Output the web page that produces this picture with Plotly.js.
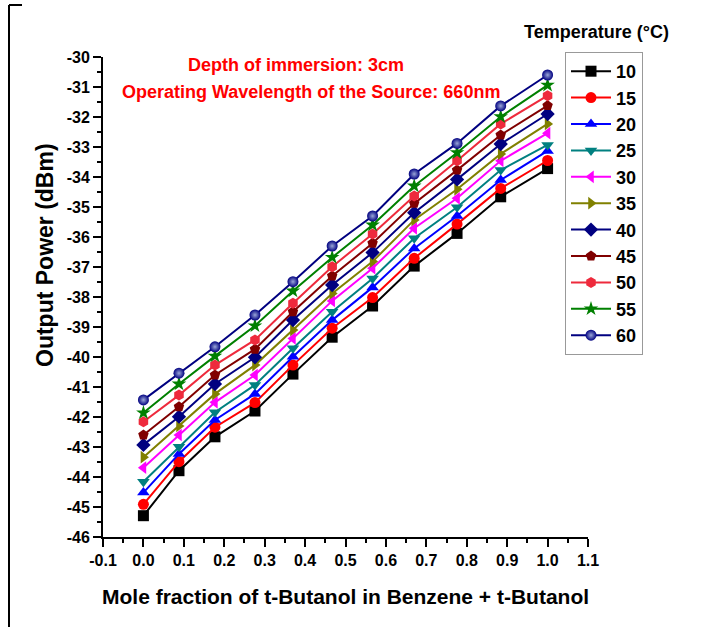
<!DOCTYPE html>
<html>
<head>
<meta charset="utf-8">
<script src="https://cdn.plot.ly/plotly-3.0.1.min.js"></script>
<style>html,body{margin:0;padding:0;background:#fff;}#chart{width:727px;height:627px;}</style>
</head>
<body>
<div id="chart"></div>
<script>
// Mole fraction of t-Butanol
const moleFraction = [0, 0.088, 0.177, 0.276, 0.37, 0.467, 0.567, 0.67, 0.776, 0.884, 1.0];

// Output power (dBm) per temperature (°C)
const temperatures = ['10', '15', '20', '25', '30', '35', '40', '45', '50', '55', '60'];
const t10 = [-45.29, -43.79, -42.66, -41.80, -40.57, -39.34, -38.30, -36.97, -35.88, -34.66, -33.72];
const t15 = [-44.91, -43.49, -42.34, -41.52, -40.27, -39.04, -38.02, -36.71, -35.57, -34.38, -33.45];
const t20 = [-44.52, -43.23, -42.10, -41.23, -39.99, -38.77, -37.68, -36.38, -35.30, -34.10, -33.13];
const t25 = [-44.16, -42.99, -41.84, -40.93, -39.71, -38.49, -37.38, -36.04, -35.01, -33.77, -32.93];
const t30 = [-43.69, -42.60, -41.51, -40.60, -39.38, -38.13, -37.04, -35.71, -34.71, -33.46, -32.54];
const t35 = [-43.34, -42.30, -41.23, -40.27, -39.10, -37.88, -36.82, -35.43, -34.41, -33.23, -32.23];
const t40 = [-42.93, -41.99, -40.90, -40.01, -38.77, -37.60, -36.52, -35.19, -34.08, -32.90, -31.90];
const t45 = [-42.60, -41.66, -40.60, -39.74, -38.49, -37.30, -36.21, -34.88, -33.77, -32.60, -31.62];
const t50 = [-42.16, -41.27, -40.27, -39.43, -38.21, -36.99, -35.90, -34.63, -33.46, -32.23, -31.29];
const t55 = [-41.86, -40.90, -39.97, -38.96, -37.80, -36.68, -35.60, -34.30, -33.19, -31.99, -30.94];
const t60 = [-41.43, -40.54, -39.66, -38.60, -37.49, -36.30, -35.30, -33.90, -32.88, -31.63, -30.60];

// Tick values and labels
const xTickVals = [-0.1, 0.0, 0.1, 0.2, 0.3, 0.4, 0.5, 0.6, 0.7, 0.8, 0.9, 1.0, 1.1];
const xTickText = ['-0.1', '0.0', '0.1', '0.2', '0.3', '0.4', '0.5', '0.6', '0.7', '0.8', '0.9', '1.0', '1.1'];
const yTickVals = [-46, -45, -44, -43, -42, -41, -40, -39, -38, -37, -36, -35, -34, -33, -32, -31, -30];
const yTickText = ['-46', '-45', '-44', '-43', '-42', '-41', '-40', '-39', '-38', '-37', '-36', '-35', '-34', '-33', '-32', '-31', '-30'];

const seriesValues = [t10, t15, t20, t25, t30, t35, t40, t45, t50, t55, t60];
const seriesColors = ['#000000', '#FF0000', '#0000FF', '#008080', '#FF00FF', '#808000', '#000080', '#800000', '#EE2A3C', '#008000', '#000080'];
const seriesSymbols = ['square', 'circle', 'triangle-up', 'triangle-down', 'triangle-left', 'triangle-right', 'diamond', 'pentagon', 'hexagon', 'star', 'circle'];

const annotationLines = ['Depth of immersion: 3cm', 'Operating Wavelength of the Source: 660nm'];
const legendTitle = 'Temperature (°C)';
const xTitle = 'Mole fraction of t-Butanol in Benzene + t-Butanol';
const yTitle = 'Output Power (dBm)';

const BOLD = 'Liberation Sans, Arial, sans-serif';

const traces = seriesValues.map((vals, i) => {
  const marker = {symbol: seriesSymbols[i], color: seriesColors[i], size: 11, line: {width: 0}};
  if (i === 10) marker.gradient = {type: 'radial', color: '#9aa6d8'};
  return {
    x: moleFraction, y: vals, name: temperatures[i], type: 'scatter', mode: 'lines+markers',
    line: {color: seriesColors[i], width: 2}, marker: marker
  };
});

const L = 103, R = 588, T = 57, B = 537;
const px = v => (v - L) / (R - L);
const py = v => (B - v) / (B - T);

const layout = {
  width: 727, height: 627,
  margin: {l: L, r: 727 - R, t: T, b: 627 - B},
  paper_bgcolor: '#ffffff', plot_bgcolor: '#ffffff',
  showlegend: true,
  xaxis: {
    range: [-0.1, 1.1], tickmode: 'array', tickvals: xTickVals, ticktext: xTickText,
    showgrid: false, zeroline: false, showline: true, linecolor: '#000', linewidth: 2,
    ticks: 'outside', ticklen: 8, tickwidth: 2, tickcolor: '#000',
    minor: {dtick: 0.05, tick0: -0.1, ticks: 'outside', ticklen: 4, tickwidth: 2, tickcolor: '#000'},
    tickfont: {family: BOLD, size: 16, color: '#000', weight: 'bold'}
  },
  yaxis: {
    range: [-46, -30], tickmode: 'array', tickvals: yTickVals, ticktext: yTickText,
    showgrid: false, zeroline: false, showline: true, linecolor: '#000', linewidth: 2,
    ticks: 'outside', ticklen: 8, tickwidth: 2, tickcolor: '#000',
    minor: {dtick: 0.5, tick0: -46, ticks: 'outside', ticklen: 4, tickwidth: 2, tickcolor: '#000'},
    tickfont: {family: BOLD, size: 16, color: '#000', weight: 'bold'}
  },
  legend: {
    x: px(565), y: py(52), xanchor: 'left', yanchor: 'top',
    bgcolor: '#ffffff', bordercolor: '#999999', borderwidth: 1,
    font: {family: BOLD, size: 18, color: '#000', weight: 'bold'},
    itemwidth: 40, tracegroupgap: 0
  },
  annotations: [
    {xref: 'paper', yref: 'paper', x: px(296), y: py(65), xanchor: 'center', yanchor: 'middle',
     text: annotationLines[0], showarrow: false,
     font: {family: BOLD, size: 18, color: '#FF0000', weight: 'bold'}},
    {xref: 'paper', yref: 'paper', x: px(311), y: py(92), xanchor: 'center', yanchor: 'middle',
     text: annotationLines[1], showarrow: false,
     font: {family: BOLD, size: 18, color: '#FF0000', weight: 'bold'}},
    {xref: 'paper', yref: 'paper', x: px(596), y: py(32), xanchor: 'center', yanchor: 'middle',
     text: legendTitle, showarrow: false,
     font: {family: BOLD, size: 18, color: '#000', weight: 'bold'}},
    {xref: 'paper', yref: 'paper', x: px(345), y: py(596), xanchor: 'center', yanchor: 'middle',
     text: xTitle, showarrow: false,
     font: {family: BOLD, size: 21, color: '#000', weight: 'bold'}},
    {xref: 'paper', yref: 'paper', x: px(45), y: py(255), xanchor: 'center', yanchor: 'middle',
     text: yTitle, showarrow: false, textangle: -90,
     font: {family: BOLD, size: 23, color: '#000', weight: 'bold'}}
  ],
  shapes: [
    {type: 'line', xref: 'paper', yref: 'paper', x0: px(9), x1: px(9), y0: py(5), y1: py(627), line: {color: '#000', width: 2}},
    {type: 'line', xref: 'paper', yref: 'paper', x0: px(9), x1: px(22), y0: py(5), y1: py(5), line: {color: '#000', width: 2}}
  ]
};

Plotly.newPlot('chart', traces, layout, {displayModeBar: false, staticPlot: true});
</script>
</body>
</html>
